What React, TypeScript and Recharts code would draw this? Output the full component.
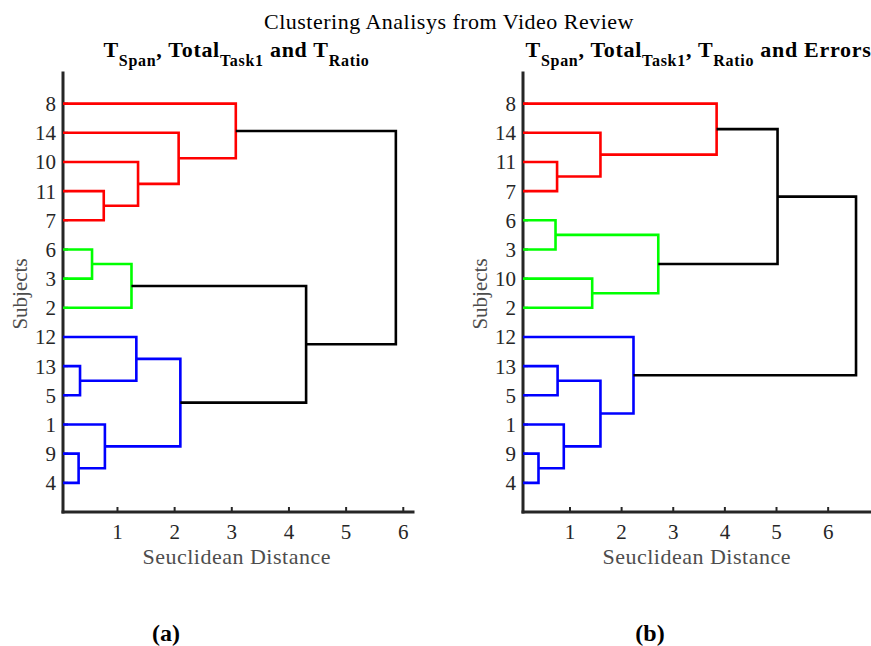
import { ScatterChart, Scatter, XAxis, YAxis } from "recharts";

const RED = "#ff0000";
const GREEN = "#00ff00";
const BLUE = "#0000ff";
const BLACK = "#000000";
const FONT = "'Liberation Serif', serif";
const AXIS = "#262626";

type Merge = [string, string, number];

// leaf order, bottom to top. "sN" = subject N, "mK" = result of merge K
const leavesA = [4, 9, 1, 5, 13, 12, 2, 3, 6, 7, 11, 10, 14, 8];
const mergesA: Merge[] = [
  ["s11", "s7", 0.76],
  ["s10", "m0", 1.36],
  ["s14", "m1", 2.07],
  ["s8", "m2", 3.07],
  ["s6", "s3", 0.555],
  ["s2", "m4", 1.245],
  ["s13", "s5", 0.345],
  ["s12", "m6", 1.33],
  ["s9", "s4", 0.32],
  ["s1", "m8", 0.78],
  ["m7", "m9", 2.1],
  ["m5", "m10", 4.3],
  ["m3", "m11", 5.87],
];
const colorsA = [RED, RED, RED, RED, GREEN, GREEN, BLUE, BLUE, BLUE, BLUE, BLUE, BLACK, BLACK];

const leavesB = [4, 9, 1, 5, 13, 12, 2, 10, 3, 6, 7, 11, 14, 8];
const mergesB: Merge[] = [
  ["s11", "s7", 0.75],
  ["s14", "m0", 1.59],
  ["s8", "m1", 3.84],
  ["s6", "s3", 0.72],
  ["s10", "s2", 1.43],
  ["m3", "m4", 2.71],
  ["s13", "s5", 0.76],
  ["s9", "s4", 0.39],
  ["s1", "m7", 0.88],
  ["m6", "m8", 1.59],
  ["s12", "m9", 2.23],
  ["m2", "m5", 5.02],
  ["m11", "m10", 6.54],
];
const colorsB = [RED, RED, RED, GREEN, GREEN, GREEN, BLUE, BLUE, BLUE, BLUE, BLUE, BLACK, BLACK];

const xTicks = [1, 2, 3, 4, 5, 6];
const yTicks = [1, 2, 3, 4, 5, 6, 7, 8, 9, 10, 11, 12, 13, 14];

// turn merges into U-shaped polylines
function buildLinks(leaves: number[], merges: Merge[]) {
  const pos: Record<string, { x: number; y: number }> = {};
  leaves.forEach((s, i) => (pos["s" + s] = { x: 0, y: i + 1 }));
  return merges.map(([a, b, h], k) => {
    const pa = pos[a];
    const pb = pos[b];
    pos["m" + k] = { x: h, y: (pa.y + pb.y) / 2 };
    return [
      { x: pa.x, y: pa.y },
      { x: h, y: pa.y },
      { x: h, y: pb.y },
      { x: pb.x, y: pb.y },
    ];
  });
}

const NoDot = () => <g />;

function Dendro({
  leaves,
  merges,
  colors,
  domain,
  width,
  left,
  right,
}: {
  leaves: number[];
  merges: Merge[];
  colors: string[];
  domain: [number, number];
  width: number;
  left: number;
  right: number;
}) {
  const links = buildLinks(leaves, merges);
  return (
    <ScatterChart
      width={width}
      height={600}
      margin={{ top: 73, right, bottom: 48, left }}
    >
      <XAxis
        type="number"
        dataKey="x"
        domain={domain}
        allowDataOverflow
        ticks={xTicks}
        interval={0}
        height={40}
        axisLine={{ stroke: AXIS, strokeWidth: 3, strokeLinecap: "square" }}
        tickLine={{ stroke: AXIS, strokeWidth: 2 }}
        tickSize={-5}
        tickMargin={17}
        tick={{ fontFamily: FONT, fontSize: 21, fill: AXIS }}
      />
      <YAxis
        type="number"
        dataKey="y"
        domain={[0, 15.05]}
        ticks={yTicks}
        interval={0}
        width={50}
        axisLine={{ stroke: AXIS, strokeWidth: 3, strokeLinecap: "square" }}
        tickLine={{ stroke: AXIS, strokeWidth: 2 }}
        tickSize={-5}
        tickMargin={12}
        tickFormatter={(v: number) => String(leaves[v - 1] ?? "")}
        tick={{ fontFamily: FONT, fontSize: 21, fill: AXIS }}
      />
      {links.map((pts, i) => (
        <Scatter
          key={i}
          data={pts}
          fill={colors[i]}
          line={{ stroke: colors[i], strokeWidth: 2.6 }}
          shape={NoDot}
          isAnimationActive={false}
        />
      ))}
    </ScatterChart>
  );
}

export default function App() {
  const sub = { fontSize: 16 };
  return (
    <div style={{ position: "absolute", left: 0, top: 0, width: 871, height: 646, background: "#fff" }}>
      <div style={{ position: "absolute", left: 0, top: 0 }}>
        <Dendro leaves={leavesA} merges={mergesA} colors={colorsA} domain={[0.047, 6.17]} width={440} left={13} right={27} />
      </div>
      <div style={{ position: "absolute", left: 440, top: 0 }}>
        <Dendro leaves={leavesB} merges={mergesB} colors={colorsB} domain={[0.09, 6.83]} width={431} left={33} right={0} />
      </div>
      <svg width={871} height={646} style={{ position: "absolute", left: 0, top: 0, pointerEvents: "none" }}>
        <g fontFamily={FONT}>
          <text x={449} y={29} textAnchor="middle" fontSize={22} letterSpacing={0.5} fill="#000">
            Clustering Analisys from Video Review
          </text>
          <text x={236.5} y={57} textAnchor="middle" fontSize={22} letterSpacing={0.7} fontWeight="bold" fill="#000">
            T<tspan dy={9} {...sub}>Span</tspan>
            <tspan dy={-9}>, Total</tspan>
            <tspan dy={9} {...sub}>Task1</tspan>
            <tspan dy={-9}> and T</tspan>
            <tspan dy={9} {...sub}>Ratio</tspan>
          </text>
          <text x={698.5} y={57} textAnchor="middle" fontSize={22} letterSpacing={0.7} fontWeight="bold" fill="#000">
            T<tspan dy={9} {...sub}>Span</tspan>
            <tspan dy={-9}>, Total</tspan>
            <tspan dy={9} {...sub}>Task1</tspan>
            <tspan dy={-9}>, T</tspan>
            <tspan dy={9} {...sub}>Ratio</tspan>
            <tspan dy={-9}> and Errors</tspan>
          </text>
          <text x={27} y={294} textAnchor="middle" fontSize={21} fill="#4d4d4d" transform="rotate(-90 27 294)">
            Subjects
          </text>
          <text x={487} y={294} textAnchor="middle" fontSize={21} fill="#4d4d4d" transform="rotate(-90 487 294)">
            Subjects
          </text>
          <text x={236.7} y={564} textAnchor="middle" fontSize={22} letterSpacing={0.5} fill="#4d4d4d">
            Seuclidean Distance
          </text>
          <text x={696.7} y={564} textAnchor="middle" fontSize={22} letterSpacing={0.5} fill="#4d4d4d">
            Seuclidean Distance
          </text>
          <text x={166} y={641} textAnchor="middle" fontSize={24} fontWeight="bold" fill="#000">
            (a)
          </text>
          <text x={650} y={641} textAnchor="middle" fontSize={24} fontWeight="bold" fill="#000">
            (b)
          </text>
        </g>
      </svg>
    </div>
  );
}
